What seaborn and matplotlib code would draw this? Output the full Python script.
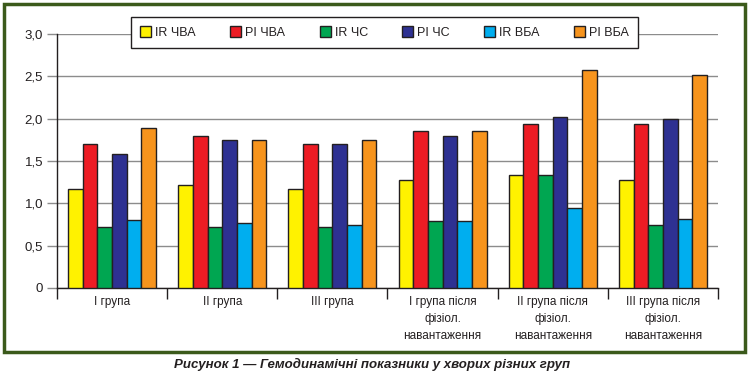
import matplotlib
matplotlib.use("Agg")
import matplotlib.pyplot as plt
import seaborn as sns
import pandas as pd
from matplotlib.patches import Rectangle
from matplotlib.ticker import MultipleLocator, FixedLocator, FuncFormatter

categories = ["I група", "II група", "III група",
              "I група після\nфізіол.\nнавантаження",
              "II група після\nфізіол.\nнавантаження",
              "III група після\nфізіол.\nнавантаження"]
series = ["IR ЧВА", "PI ЧВА", "IR ЧС", "PI ЧС", "IR ВБА", "PI ВБА"]
ir_cva = [1.17, 1.22, 1.17, 1.27, 1.33, 1.27]
pi_cva = [1.70, 1.80, 1.70, 1.85, 1.94, 1.94]
ir_cs = [0.72, 0.72, 0.72, 0.79, 1.33, 0.74]
pi_cs = [1.58, 1.75, 1.70, 1.80, 2.02, 2.00]
ir_vba = [0.80, 0.77, 0.75, 0.79, 0.94, 0.82]
pi_vba = [1.89, 1.75, 1.75, 1.85, 2.58, 2.52]
colors = ["#FFF200", "#ED1C24", "#00A651", "#2E3192", "#00AEEF", "#F7941D"]

vals = [ir_cva, pi_cva, ir_cs, pi_cs, ir_vba, pi_vba]
rows = []
for s, v in zip(series, vals):
    for c, x in zip(categories, v):
        rows.append({"cat": c, "series": s, "value": x})
df = pd.DataFrame(rows)

sns.set_style("white")
plt.rcParams["font.family"] = ["Liberation Sans", "DejaVu Sans"]

fig = plt.figure(figsize=(7.49, 3.75), dpi=100)
ax = fig.add_axes([0.0761, 0.232, 0.8825, 0.6773])

sns.barplot(data=df, x="cat", y="value", hue="series", order=categories,
            hue_order=series, palette=colors, saturation=1, width=0.8,
            edgecolor="#231F20", linewidth=1.0, ax=ax, zorder=3, legend=True)

ax.set_ylim(0, 3.0)
ax.set_xlim(-0.5, len(categories) - 0.5)
ax.yaxis.set_major_locator(MultipleLocator(0.5))
ax.yaxis.set_major_formatter(FuncFormatter(lambda v, p: "0" if abs(v) < 1e-9 else f"{v:.1f}".replace(".", ",")))
ax.grid(axis="y", color="#8C8C8C", linewidth=1.0, zorder=0)
ax.set_axisbelow(True)
for s in ["top", "right"]:
    ax.spines[s].set_visible(False)
for s in ["left", "bottom"]:
    ax.spines[s].set_color("#231F20")
    ax.spines[s].set_linewidth(1.0)
ax.tick_params(axis="y", length=7, color="#8C8C8C", width=1.0, labelsize=9.5,
               labelcolor="#231F20", pad=3, left=True)
ax.xaxis.set_minor_locator(FixedLocator([i - 0.5 for i in range(len(categories) + 1)]))
ax.tick_params(axis="x", which="major", length=0, labelsize=8.5, labelcolor="#231F20", pad=6)
ax.tick_params(axis="x", which="minor", length=8, color="#231F20", width=1.0, bottom=True)
for lbl in ax.get_xticklabels():
    lbl.set_linespacing(1.55)
    lbl.set_verticalalignment("top")
ax.set_xlabel("")
ax.set_ylabel("")

handles, labels = ax.get_legend_handles_labels()
ax.legend_.remove()
leg = fig.legend(handles, labels, loc="center", bbox_to_anchor=(0.5134, 0.913),
                 ncol=6, frameon=True, fancybox=False, edgecolor="#231F20",
                 framealpha=1, fontsize=9, handlelength=0.9, handleheight=0.9,
                 handletextpad=0.3, columnspacing=2.75, borderpad=0.75)
leg.get_frame().set_linewidth(1.0)
for t in leg.get_texts():
    t.set_color("#231F20")

fig.patches.append(Rectangle((4 / 749, 1 - 352 / 375), 741 / 749, 348 / 375,
                             transform=fig.transFigure, fill=False,
                             edgecolor="#3B5A1B", linewidth=2.5))
fig.text(0.497, 1 - 364 / 375, "Рисунок 1 — Гемодинамічні показники у хворих різних груп",
         ha="center", va="center", fontsize=9.5, fontweight="bold", fontstyle="italic",
         color="#231F20")

fig.savefig("out.png", dpi=100)
